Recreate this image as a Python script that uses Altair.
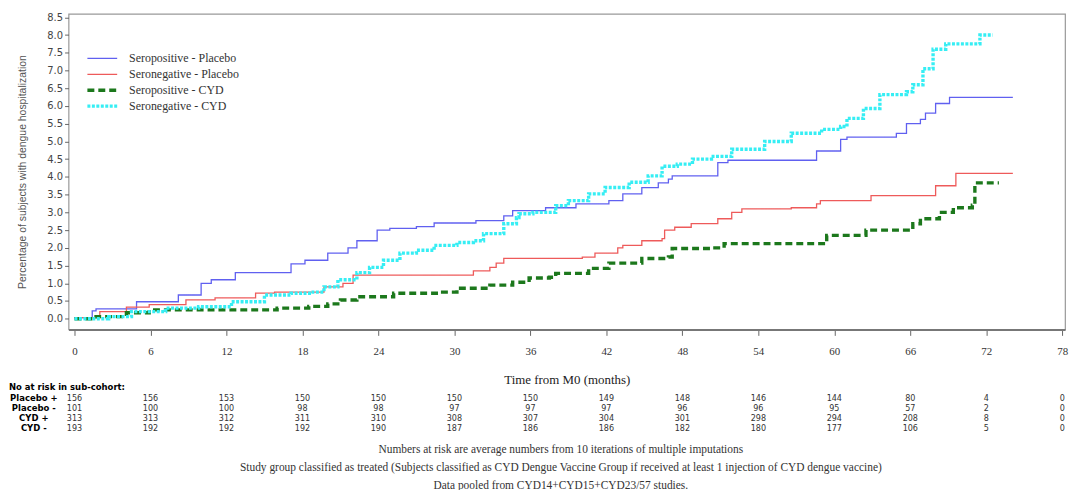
import altair as alt
import pandas as pd

series_names = ["Seropositive - Placebo", "Seronegative - Placebo",
                "Seropositive - CYD", "Seronegative - CYD"]
series_colors = ["#6060f0", "#ee5a5a", "#1c781c", "#36eef4"]

# Seropositive - Placebo
sp_pl_t = [0, 1.4, 1.7, 4.9, 8.2, 10.0, 10.8, 12.7, 17.1, 18.2, 20.0, 21.6, 22.3, 23.9,
           24.9, 27.0, 28.4, 31.7, 33.9, 34.6, 37.2, 39.6, 42.2, 43.3, 44.8, 46.1, 46.9,
           47.2, 50.8, 51.6, 58.6, 60.5, 61.0, 64.9, 65.7, 66.8, 67.2, 68.0, 69.1, 74.1]
sp_pl_v = [0.03, 0.22, 0.28, 0.48, 0.67, 1.0, 1.1, 1.3, 1.55, 1.65, 1.85, 2.0, 2.2, 2.5,
           2.55, 2.6, 2.7, 2.77, 2.9, 3.05, 3.13, 3.24, 3.33, 3.52, 3.7, 3.83, 3.94,
           4.03, 4.4, 4.47, 4.73, 5.06, 5.12, 5.23, 5.5, 5.62, 5.8, 6.07, 6.24, 6.24]

# Seronegative - Placebo
sn_pl_t = [0, 2.0, 4.1, 5.9, 8.8, 11.1, 14.3, 15.8, 19.7, 21.2, 22.0, 31.5, 32.8, 33.3,
           33.9, 40.1, 41.1, 42.9, 43.3, 44.8, 46.4, 46.6, 47.4, 48.7, 50.8, 51.9, 52.7,
           56.6, 58.6, 58.9, 62.9, 68.0, 69.6, 74.1]
sn_pl_v = [0.03, 0.2, 0.33, 0.4, 0.53, 0.59, 0.72, 0.75, 0.9, 1.0, 1.23, 1.35, 1.45, 1.57,
           1.7, 1.74, 1.85, 2.0, 2.07, 2.2, 2.26, 2.5, 2.58, 2.68, 2.82, 3.0, 3.1,
           3.13, 3.24, 3.33, 3.47, 3.75, 4.1, 4.1]

# Seropositive - CYD
sp_cyd_t = [0, 1.7, 4.1, 5.9, 16.0, 18.5, 20.0, 21.0, 22.3, 25.2, 28.8, 30.2, 32.8, 34.6,
            35.9, 37.5, 38.0, 40.6, 42.2, 44.8, 46.9, 47.2, 50.3, 51.3, 59.4, 62.5, 66.2,
            66.8, 68.3, 69.4, 70.9, 71.1, 73.0]
sp_cyd_v = [0.0, 0.06, 0.17, 0.25, 0.3, 0.35, 0.42, 0.53, 0.62, 0.72, 0.75, 0.86, 0.95, 1.03,
            1.15, 1.17, 1.28, 1.42, 1.57, 1.7, 1.74, 1.98, 2.0, 2.12, 2.35, 2.5, 2.68,
            2.82, 3.0, 3.13, 3.2, 3.83, 3.83]

# Seronegative - CYD
sn_cyd_t = [0, 2.7, 4.5, 7.2, 9.8, 12.4, 15.0, 17.1, 18.7, 19.7, 20.8, 22.3, 23.3, 24.4,
            25.7, 27.0, 28.4, 30.2, 31.5, 32.3, 33.9, 34.9, 35.1, 36.2, 38.0, 39.0, 40.6,
            41.9, 43.8, 45.3, 46.4, 47.6, 48.8, 50.3, 51.9, 54.5, 56.6, 59.0, 60.5, 61.0,
            62.3, 63.6, 65.7, 66.2, 67.0, 67.8, 68.8, 71.5, 72.5]
sn_cyd_v = [0.0, 0.06, 0.2, 0.3, 0.34, 0.48, 0.67, 0.72, 0.75, 0.9, 1.1, 1.3, 1.45, 1.65,
            1.85, 1.93, 2.07, 2.15, 2.2, 2.4, 2.68, 2.85, 2.96, 3.0, 3.19, 3.33, 3.52,
            3.7, 3.85, 4.03, 4.3, 4.36, 4.5, 4.58, 4.78, 5.0, 5.23, 5.34, 5.42, 5.65,
            5.93, 6.32, 6.4, 6.6, 7.05, 7.6, 7.75, 8.0, 8.0]

risk_months = [0, 6, 12, 18, 24, 30, 36, 42, 48, 54, 60, 66, 72, 78]
risk_labels = ["Placebo +", "Placebo -", "CYD +", "CYD -"]
risk_placebo_pos = [156, 156, 153, 150, 150, 150, 150, 149, 148, 146, 144, 80, 4, 0]
risk_placebo_neg = [101, 100, 100, 98, 98, 97, 97, 97, 96, 96, 95, 57, 2, 0]
risk_cyd_pos = [313, 313, 312, 311, 310, 308, 307, 304, 301, 298, 294, 208, 8, 0]
risk_cyd_neg = [193, 192, 192, 192, 190, 187, 186, 186, 182, 180, 177, 106, 5, 0]

footnotes = [
    "Numbers at risk are average numbers from 10 iterations of multiple imputations",
    "Study group classified as treated (Subjects classified as CYD Dengue Vaccine Group if received at least 1 injection of CYD dengue vaccine)",
    "Data pooled from CYD14+CYD15+CYD23/57 studies.",
]

# line styles per series (stroke dash, stroke width)
series_dash = [[1, 0], [1, 0], [7, 4], [3, 1.5]]
series_width = [1.3, 1.3, 3.4, 3.4]

NARROW = "DejaVu Sans Condensed, Liberation Sans Narrow, Arial Narrow, Liberation Sans, sans-serif"

W, H = 1004, 318
xscale = alt.Scale(domain=[-0.47, 78.22], nice=False, zero=False)
yscale = alt.Scale(domain=[-0.3, 8.6], nice=False, zero=False)

x_axis = alt.Axis(values=risk_months, title="Time from M0 (months)",
                  tickSize=6, labelPadding=10, labelFont="Liberation Serif",
                  labelFontSize=11, labelColor="#333", titleFont="Liberation Serif",
                  titleFontSize=13, titleFontWeight="normal", titleColor="#222",
                  titlePadding=18, domainColor="#777", domainWidth=2,
                  tickColor="#666", grid=False, labelFlush=False)
y_axis = alt.Axis(values=[i * 0.5 for i in range(18)], format=".1f",
                  title="Percentage of subjects with dengue hospitalization",
                  tickSize=4, labelPadding=2, labelFont="DejaVu Sans",
                  labelFontSize=10, labelColor="#444", titleFont="Liberation Sans",
                  titleFontSize=10.5, titleFontWeight="normal", titleColor="#555",
                  titlePadding=19, domain=False, tickColor="#666", grid=False)

layers = []
legend_y = [45, 61, 77, 93]
for i, (name, ts, vs) in enumerate(zip(series_names,
                                       [sp_pl_t, sn_pl_t, sp_cyd_t, sn_cyd_t],
                                       [sp_pl_v, sn_pl_v, sp_cyd_v, sn_cyd_v])):
    sdf = pd.DataFrame({"month": ts, "pct": vs, "series": name})
    layers.append(
        alt.Chart(sdf).mark_line(interpolate="step-after", color=series_colors[i],
                                 strokeDash=series_dash[i], strokeWidth=series_width[i])
        .encode(x=alt.X("month:Q", scale=xscale, axis=x_axis),
                y=alt.Y("pct:Q", scale=yscale, axis=y_axis))
    )

# legend (drawn inside plot, top-left)
for i, name in enumerate(series_names):
    ldf = pd.DataFrame({"t": [name]})
    layers.append(
        alt.Chart(ldf).mark_rule(color=series_colors[i], strokeDash=series_dash[i],
                                 strokeWidth=series_width[i])
        .encode(x=alt.value(19), x2=alt.value(49), y=alt.value(legend_y[i]))
    )
    layers.append(
        alt.Chart(ldf).mark_text(font="Liberation Serif", fontSize=12, color="#333",
                                 align="left", baseline="middle")
        .encode(x=alt.value(61), y=alt.value(legend_y[i]), text="t:N")
    )

risk_rows = [risk_placebo_pos, risk_placebo_neg, risk_cyd_pos, risk_cyd_neg]
row_y = [387, 397, 407, 417]
for lab, vals, yy in zip(risk_labels, risk_rows, row_y):
    tdf = pd.DataFrame({"month": risk_months, "n": [str(v) for v in vals]})
    layers.append(
        alt.Chart(tdf).mark_text(font=NARROW, fontSize=9,
                                 color="#333", baseline="middle", align="center")
        .encode(x=alt.X("month:Q", scale=xscale, axis=x_axis), y=alt.value(yy), text="n:N")
    )
    layers.append(
        alt.Chart(pd.DataFrame({"t": [lab]})).mark_text(
            font=NARROW, fontSize=9.5, fontWeight="bold",
            color="#000", baseline="middle", align="center")
        .encode(x=alt.value(-35), y=alt.value(yy), text="t:N")
    )

layers.append(
    alt.Chart(pd.DataFrame({"t": ["No at risk in sub-cohort:"]})).mark_text(
        font=NARROW, fontSize=9.5, fontWeight="bold",
        color="#000", baseline="middle", align="left")
    .encode(x=alt.value(-60), y=alt.value(376), text="t:N")
)

for i, fn in enumerate(footnotes):
    layers.append(
        alt.Chart(pd.DataFrame({"t": [fn]})).mark_text(
            font="Liberation Serif", fontSize=11.5, color="#333",
            baseline="middle", align="center")
        .encode(x=alt.value(496), y=alt.value(440 + 18 * i), text="t:N")
    )

chart = alt.layer(*layers).properties(
    width=W, height=H,
    autosize=alt.AutoSizeParams(type="none"),
    padding={"left": 61, "top": 4, "right": 4, "bottom": 160},
).configure_view(stroke="#999", strokeWidth=1.2)

chart.save("out.html", embed_options={"renderer": "svg", "actions": False})
